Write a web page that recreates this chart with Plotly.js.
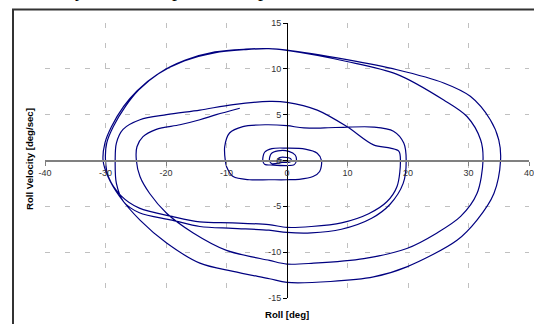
<!DOCTYPE html>
<html>
<head>
<meta charset="utf-8">
<script src="https://cdn.plot.ly/plotly-3.0.1.min.js"></script>
<style>html,body{margin:0;padding:0;background:#fff;}#chart{width:534px;height:324px;}</style>
</head>
<body>
<div id="chart"></div>
<script>
// Roll angle [deg] along the trajectory (starts at the centre, ends at the free end upper-left)
const rollDeg = [
  -0.8, -1.5, -1.2, 0, 0.6, 0.7, 0.4, -0.8, -2.5,
  -2.9, -2.6, -1.5, 0.3, 1.35, 1.55, 1.2, 0, -2.2, -3.7,
  -4.0, -3.7, -2.5, 0, 3, 5, 5.7, 5.4, 4.3, 2, 0, -3, -6.2, -8.9, -10,
  -10.2, -10.3, -9.5, -7.3, -3.5, 0, 2.8, 8, 14.3, 17.6, 19.3, 19.7,
  19.2, 17, 14, 9, 4, 0, -3, -9, -14.4, -19, -24.4, -27, -28.2, -28.4,
  -28.2, -27.1, -24.3, -19.9, -14.4, -8.9, -2.9, 0, 5, 9.9, 14.3, 17.1, 18.5, 18.75,
  18.2, 16.5, 13.5, 9, 4, 0, -3, -9, -14.4, -19, -24.4, -27.5, -29.5, -30.0,
  -29.8, -28.7, -26.7, -24.5, -21.2, -16.8, -11.9, -6.8, -3, 0, 9.9, 18.2, 25.9, 30.3, 33.6, 35, 35.3,
  34.2, 31.4, 28.1, 19.8, 14.3, 7.2, 0, -2.9, -8.9, -14.4, -19.9, -24.3, -27.7, -29.6, -30.4,
  -30.1, -29.0, -27.0, -24.8, -21.4, -17, -12, -6.8, -3, 0, 9.9, 18.2, 25.9, 29.75, 32, 32.4,
  31.4, 28.7, 24.8, 19.8, 12.7, 4.4, 0, -2.9, -10, -15.5, -19.9, -22.7, -24.3, -24.9,
  -24.8, -23.8, -21.6, -17.7, -14.4, -11.7, -7.8
];
// Roll velocity [deg/sec] along the same trajectory
const rollRate = [
  0.05, 0.15, 0.33, 0.33, 0.2, 0, -0.18, -0.2, -0.35,
  0, 0.75, 1.05, 1.0, 0.6, 0, -0.45, -0.55, -0.5, -0.4,
  0, 0.9, 1.3, 1.35, 1.25, 0.8, 0, -1.2, -1.75, -2.05, -2.1, -2.1, -2.1, -1.75, -0.65,
  0, 1.5, 3.0, 3.7, 3.9, 3.8, 3.55, 3.6, 3.65, 3.2, 1.9, 0,
  -2.5, -4.8, -6.3, -7.5, -7.9, -7.85, -7.6, -7.4, -7.2, -6.5, -5.7, -4.5, -2.5, 0,
  1.9, 3.4, 4.45, 5.0, 5.5, 6.1, 6.45, 6.35, 5.5, 3.7, 1.7, 1.35, 1.0, 0,
  -2.8, -4.5, -5.8, -6.8, -7.2, -7.3, -7.0, -6.8, -6.7, -6.1, -5.2, -3.8, -1.8, 0,
  1.9, 3.7, 5.9, 7.7, 9.5, 10.95, 11.85, 12.15, 12.2, 12.05, 11.0, 9.9, 8.46, 7.0, 4.45, 2.26, 0,
  -3.6, -6.5, -8.7, -11.6, -12.7, -13.2, -13.3, -12.9, -12.1, -11.2, -9.0, -6.5, -3.9, -1.75, 0,
  1.9, 3.7, 5.9, 7.6, 9.4, 10.85, 11.75, 12.1, 12.2, 12.0, 10.8, 9.4, 6.6, 4.8, 2.26, 0,
  -3.6, -6.1, -7.9, -9.6, -10.7, -11.2, -11.3, -10.9, -9.8, -7.9, -5.75, -3.6, -1.75, 0,
  1.5, 2.6, 3.4, 3.9, 4.45, 5.0, 5.7
];
const xTicks = [-40, -30, -20, -10, 0, 10, 20, 30, 40];
const yTicks = [-15, -10, -5, 0, 5, 10, 15];
const xTitle = "Roll [deg]";
const yTitle = "Roll Velocity [deg/sec]";
const cutText = ["y", "p", "p"];
const cutTextX = [80, 177, 263];

const W = 534, H = 324;
const M = {l: 45, r: 5, t: 23, b: 26};
const pw = W - M.l - M.r, ph = H - M.t - M.b;
const px = v => (v - M.l) / pw;
const py = v => (H - M.b - v) / ph;

const trace = {
  x: rollDeg, y: rollRate, type: 'scatter', mode: 'lines',
  line: {color: '#000080', width: 1.2, shape: 'spline', smoothing: 0.9},
  hoverinfo: 'skip'
};

const tickFont = {family: 'Liberation Sans, Arial, sans-serif', size: 9, color: '#333'};
const titleFont = {family: 'Liberation Sans, Arial, sans-serif', size: 9.6, color: '#000', weight: 'bold'};

const annotations = [
  {text: '<b>' + xTitle + '</b>', xref: 'paper', yref: 'paper', x: 0.5, y: py(314),
   xanchor: 'center', yanchor: 'middle', showarrow: false, font: titleFont},
  {text: '<b>' + yTitle + '</b>', xref: 'paper', yref: 'paper', x: px(29), y: py(159),
   xanchor: 'center', yanchor: 'middle', textangle: -90, showarrow: false, font: titleFont}
];
cutText.forEach((t, i) => annotations.push({
  text: t, xref: 'paper', yref: 'paper', x: px(cutTextX[i]), y: py(1.5),
  xanchor: 'center', yanchor: 'bottom', showarrow: false, borderpad: 0,
  font: {family: 'Liberation Serif, Times New Roman, serif', size: 20, color: '#000'}
}));

const layout = {
  width: W, height: H,
  margin: M,
  paper_bgcolor: '#fff', plot_bgcolor: '#fff',
  showlegend: false,
  xaxis: {
    range: [-40, 40], tickvals: xTicks, ticktext: xTicks.map(String),
    anchor: 'free', position: 0.5,
    showline: true, linecolor: '#808080', linewidth: 2,
    zeroline: false,
    ticks: 'outside', ticklen: 4, tickcolor: '#808080', tickwidth: 1,
    showgrid: true, gridcolor: '#c0c0c0', gridwidth: 1, griddash: '5px,15px',
    tickfont: tickFont, ticklabeloverflow: 'allow', fixedrange: true
  },
  yaxis: {
    range: [-15, 15], tickvals: yTicks, ticktext: yTicks.map(String),
    anchor: 'free', position: 0.5,
    showline: true, linecolor: '#000', linewidth: 1,
    zeroline: false,
    ticks: 'outside', ticklen: 4, tickcolor: '#000', tickwidth: 1,
    showgrid: true, gridcolor: '#c0c0c0', gridwidth: 1, griddash: '5px,15px',
    tickfont: tickFont, ticklabeloverflow: 'allow', fixedrange: true
  },
  shapes: [
    {type: 'rect', xref: 'paper', yref: 'paper',
     x0: px(13), x1: px(540), y0: py(340), y1: py(9.5),
     line: {color: '#333', width: 2}, fillcolor: 'rgba(0,0,0,0)', layer: 'above'}
  ],
  annotations: annotations
};

Plotly.newPlot('chart', [trace], layout, {staticPlot: true, displayModeBar: false});
</script>
</body>
</html>
